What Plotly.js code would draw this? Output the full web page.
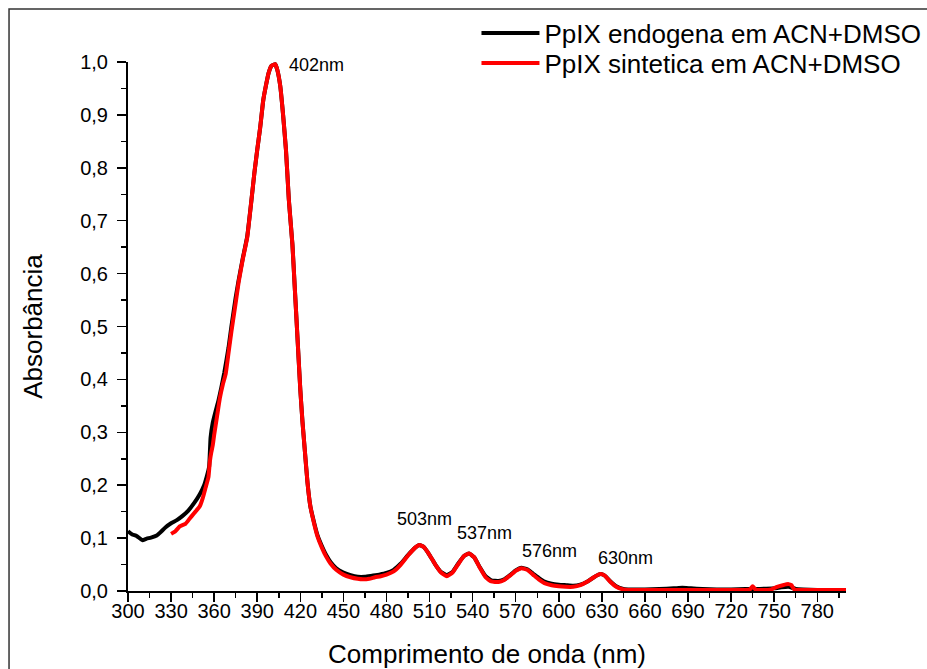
<!DOCTYPE html>
<html>
<head>
<meta charset="utf-8">
<script src="https://cdn.plot.ly/plotly-3.0.1.min.js"></script>
<style>html,body{margin:0;padding:0;background:#fff;}#chart{width:927px;height:669px;}</style>
</head>
<body>
<div id="chart"></div>
<script>
// Endogenous PpIX (black)
const endoWavelength = [300,303,306,310,313,316,320,323,326,330,334,338,342,346,350,353,355,356.5,357.5,359,361,363,365,367,370,372,375,377,380,383,386,388,390,392,394.2,396,398,400,402.5,404,406,408,410,412,414.5,416,418,420,421.5,423,425,427,430,432,435,438,441,445,450,455,460,465,470,475,480,485,490,495,500,503,506,510,514,518,522,526,530,534,537.5,541,545,549,553,558,562,566,570,574,578,582,586,590,595,600,605,610,615,620,625,629,632,636,640,645,650,660,670,680,686,692,700,710,720,730,740,750,755,760,765,770,780,790,800];
const endoAbs = [0.113,0.107,0.104,0.096,0.099,0.101,0.105,0.112,0.120,0.128,0.134,0.142,0.152,0.166,0.183,0.200,0.218,0.235,0.290,0.318,0.340,0.360,0.385,0.412,0.460,0.500,0.555,0.587,0.630,0.670,0.740,0.790,0.834,0.875,0.928,0.955,0.980,0.993,0.996,0.985,0.955,0.900,0.834,0.740,0.655,0.580,0.480,0.380,0.320,0.270,0.205,0.160,0.125,0.105,0.085,0.068,0.055,0.043,0.035,0.030,0.027,0.027,0.029,0.031,0.034,0.040,0.052,0.068,0.082,0.087,0.083,0.068,0.050,0.036,0.030,0.036,0.052,0.066,0.071,0.064,0.045,0.028,0.020,0.019,0.022,0.030,0.039,0.044,0.041,0.033,0.025,0.018,0.014,0.012,0.011,0.010,0.012,0.018,0.027,0.032,0.029,0.018,0.009,0.004,0.003,0.003,0.004,0.005,0.006,0.005,0.004,0.003,0.003,0.004,0.004,0.005,0.007,0.008,0.004,0.003,0.002,0.002,0.002];

// Synthetic PpIX (red)
const synWavelength = [330,333,336,340,343,346,350,352,354,356,357,358,359,360,362,364,366,368,370,372,375,377,380,383,386,388,390,392,394.2,396,398,400,402.5,404,406,408,410,412,414.5,416,418,420,421.5,423,425,427,430,432,435,438,441,445,450,455,460,463.5,468,472,476,480,485,490,495,500,503,506,510,514,518,522,526,530,534,537.5,541,545,549,553,558,562,566,570,574,578,582,586,590,595,600,605,610,615,620,625,629,632,636,640,645,650,660,670,680,690,700,710,720,730,733,735,737,740,748,752,756,760,762,764,770,780,790,800];
const synAbs = [0.108,0.113,0.122,0.127,0.137,0.147,0.160,0.175,0.195,0.215,0.245,0.262,0.275,0.295,0.330,0.365,0.390,0.410,0.450,0.490,0.545,0.583,0.628,0.668,0.740,0.790,0.834,0.875,0.928,0.955,0.980,0.993,0.996,0.985,0.955,0.900,0.834,0.740,0.655,0.580,0.480,0.380,0.320,0.270,0.205,0.160,0.123,0.103,0.082,0.065,0.052,0.040,0.031,0.026,0.023,0.022,0.023,0.026,0.028,0.031,0.037,0.050,0.067,0.082,0.087,0.083,0.068,0.050,0.035,0.028,0.035,0.051,0.066,0.071,0.064,0.044,0.026,0.018,0.017,0.021,0.029,0.038,0.043,0.040,0.031,0.022,0.015,0.011,0.009,0.008,0.008,0.011,0.018,0.027,0.032,0.029,0.017,0.008,0.003,0.002,0.002,0.002,0.002,0.002,0.002,0.002,0.002,0.002,0.003,0.009,0.003,0.002,0.003,0.008,0.011,0.013,0.011,0.003,0.002,0.002,0.002,0.002];

const seriesNames = ["PpIX endogena em ACN+DMSO", "PpIX sintetica em ACN+DMSO"];
const peakLabels = ["402nm", "503nm", "537nm", "576nm", "630nm"];
const peakLabelX = [410.5, 506.3, 548.5, 593.6, 646.2];
const peakLabelY = [0.994, 0.136, 0.109, 0.0756, 0.062];

const FONT = "Liberation Sans, Arial, sans-serif";

const traces = [
  {x: endoWavelength, y: endoAbs, type: "scatter", mode: "lines", name: seriesNames[0], legend: "legend",
   line: {color: "#000000", width: 4, shape: "spline", smoothing: 0.4}},
  {x: synWavelength, y: synAbs, type: "scatter", mode: "lines", name: seriesNames[1], legend: "legend2",
   line: {color: "#ff0000", width: 4, shape: "spline", smoothing: 0.4}}
];

const annotations = peakLabels.map((t, i) => ({
  x: peakLabelX[i], y: peakLabelY[i], xref: "x", yref: "y", text: t, showarrow: false,
  xanchor: i === 0 ? "left" : "center", yanchor: "middle",
  font: {family: FONT, size: 18, color: "#000"}
}));

function legendAt(yc) {
  return {xref: "container", yref: "container", x: 0.514, y: yc, xanchor: "left", yanchor: "middle",
    bgcolor: "rgba(0,0,0,0)", borderwidth: 0, itemwidth: 58,
    font: {family: FONT, size: 26, color: "#000"}};
}

const layout = {
  width: 927, height: 669,
  margin: {l: 128, r: 81, t: 62, b: 78, autoexpand: false},
  paper_bgcolor: "#fff", plot_bgcolor: "#fff",
  separators: ",.",
  font: {family: FONT, color: "#000"},
  showlegend: true,
  legend: legendAt(1 - 33 / 669),
  legend2: legendAt(1 - 63 / 669),
  xaxis: {
    range: [300, 800], tick0: 300, dtick: 30, ticks: "outside", ticklen: 9, tickwidth: 1.5,
    tickcolor: "#000", showline: true, linecolor: "#000", linewidth: 2, showgrid: false, zeroline: false,
    tickfont: {family: FONT, size: 20, color: "#000"}, tickangle: 0, automargin: false, ticklabelstandoff: -8,
    minor: {dtick: 15, ticks: "outside", ticklen: 5, tickwidth: 1.5, tickcolor: "#000", showgrid: false},
    title: {text: "Comprimento de onda (nm)", font: {family: FONT, size: 26, color: "#000"}, standoff: 24}
  },
  yaxis: {
    range: [0, 1.0], tick0: 0, dtick: 0.1, tickformat: ".1f", ticks: "outside", ticklen: 9, tickwidth: 1.5,
    tickcolor: "#000", showline: true, linecolor: "#000", linewidth: 2, showgrid: false, zeroline: false,
    tickfont: {family: FONT, size: 20, color: "#000"}, ticklabelstandoff: 5, automargin: false,
    minor: {dtick: 0.05, ticks: "outside", ticklen: 5, tickwidth: 1.5, tickcolor: "#000", showgrid: false},
    title: {text: "Absorbância", font: {family: FONT, size: 26, color: "#000"}, standoff: 30}
  },
  annotations: annotations,
  shapes: [{type: "rect", xref: "paper", yref: "paper", x0: -0.1657, x1: 1.15, y0: -0.2, y1: 1.1002,
    line: {color: "#333", width: 1.5}, fillcolor: "rgba(0,0,0,0)", layer: "below"}]
};

Plotly.newPlot("chart", traces, layout, {displayModeBar: false, staticPlot: true});
</script>
</body>
</html>
